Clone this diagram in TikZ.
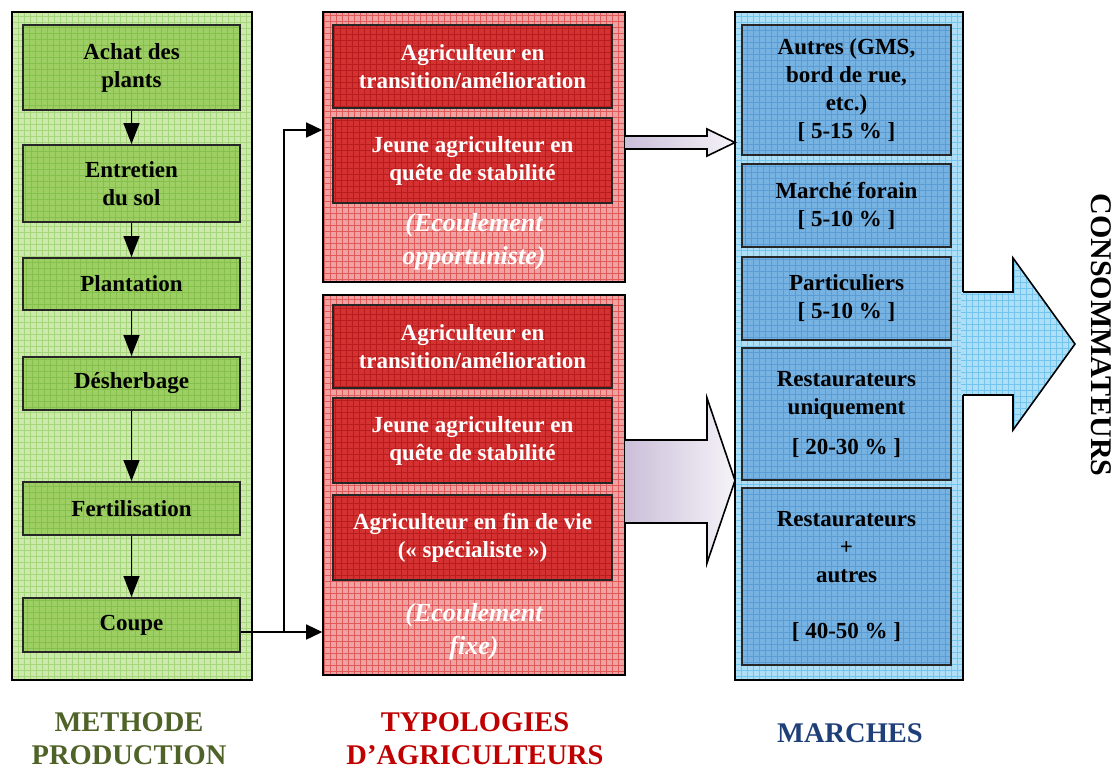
\documentclass[tikz,border=0pt]{standalone}
\usepackage{fontspec}
\setmainfont{Liberation Serif}
\usetikzlibrary{arrows.meta}

\definecolor{greenOuter}{HTML}{CDE9AC}
\definecolor{greenOuterLn}{HTML}{A6D67C}
\definecolor{greenInner}{HTML}{9DCF64}
\definecolor{greenInnerLn}{HTML}{86C04C}
\definecolor{redOuter}{HTML}{EFA2A2}
\definecolor{redOuterLn}{HTML}{E05A5A}
\definecolor{redInner}{HTML}{D43232}
\definecolor{redInnerLn}{HTML}{B81C1C}
\definecolor{blueOuter}{HTML}{AEDFF7}
\definecolor{blueOuterLn}{HTML}{72C6EE}
\definecolor{blueInner}{HTML}{76B3E3}
\definecolor{blueInnerLn}{HTML}{5C9CD4}
\definecolor{flowLeft}{HTML}{CBBFD9}
\definecolor{flowRight}{HTML}{F5F3F8}
\definecolor{labGreen}{HTML}{4F6228}
\definecolor{labRed}{HTML}{C00000}
\definecolor{labBlue}{HTML}{1F3F78}

\begin{document}
\begin{tikzpicture}[x=1pt,y=-1pt,
  % textured fill: a flat colour crossed by a fine grid
  gridfill/.style={path picture={\draw[#1, line width=0.7pt, step=6pt]
      (path picture bounding box.south west) grid (path picture bounding box.north east);}},
  outerbox/.style={draw=black, line width=1.6pt, inner sep=0pt},
  innerbox/.style={draw=black!85, line width=2pt, inner sep=0pt, align=center,
    font=\fontsize{23}{28}\selectfont\bfseries},
  gbox/.style={innerbox, fill=greenInner, gridfill=greenInnerLn, minimum width=217pt},
  rbox/.style={innerbox, fill=redInner, gridfill=redInnerLn, text=white, minimum width=279pt},
  bbox/.style={innerbox, fill=blueInner, gridfill=blueInnerLn, minimum width=209pt},
  flow/.style={line width=1.5pt, -{Triangle[length=21pt,width=16pt]}},
  feed/.style={line width=1.5pt, -{Triangle[length=16pt,width=15pt]}},
  conn/.style={line width=1.5pt},
  hollow/.style={line width=1.6pt, line join=miter},
  note/.style={align=center, text=white, font=\fontsize{26}{33}\selectfont\bfseries\itshape},
  title/.style={align=center, font=\fontsize{28.5}{33}\selectfont\bfseries}
]
\useasboundingbox (0,0) rectangle (1118,769);

% ---- column frames ----
\node[outerbox, fill=greenOuter, gridfill=greenOuterLn, minimum width=240pt, minimum height=668pt] (G) at (132,346) {};
\node[outerbox, fill=redOuter, gridfill=redOuterLn, minimum width=302pt, minimum height=270pt] (R1) at (474,147) {};
\node[outerbox, fill=redOuter, gridfill=redOuterLn, minimum width=302pt, minimum height=380pt] (R2) at (474,485) {};
\node[outerbox, fill=blueOuter, gridfill=blueOuterLn, minimum width=228pt, minimum height=668pt] (B) at (849,346) {};

% ---- production steps ----
\node[gbox, minimum height=85pt] (a1) at (131.5,67.5) {Achat des\\plants};
\node[gbox, minimum height=77pt] (a2) at (131.5,183.5) {Entretien\\du sol};
\node[gbox, minimum height=52pt] (a3) at (131.5,284) {Plantation};
\node[gbox, minimum height=53pt] (a4) at (131.5,383.5) {Désherbage};
\node[gbox, minimum height=53pt] (a5) at (131.5,508.5) {Fertilisation};
\node[gbox, minimum height=54pt] (a6) at (131.5,625) {Coupe};

\draw[flow] (a1) -- (a2);
\draw[flow] (a2) -- (a3);
\draw[flow] (a3) -- (a4);
\draw[flow] (a4) -- (a5);
\draw[flow] (a5) -- (a6);

% ---- farmer types ----
\node[rbox, minimum height=83pt] (b1) at (472.5,66.5) {Agriculteur en\\transition/amélioration};
\node[rbox, minimum height=85pt] (b2) at (472.5,160.5) {Jeune agriculteur en\\quête de stabilité};
\node[note] (n1) at (474,242) {(Ecoulement\\opportuniste)};

\node[rbox, minimum height=83pt] (b3) at (472.5,346.5) {Agriculteur en\\transition/amélioration};
\node[rbox, minimum height=85pt] (b4) at (472.5,440.5) {Jeune agriculteur en\\quête de stabilité};
\node[rbox, minimum height=85pt] (b5) at (472.5,537.5) {Agriculteur en fin de vie\\(« spécialiste »)};
\node[note] (n2) at (474,632) {(Ecoulement\\fixe)};

% ---- markets ----
\node[bbox, minimum height=130pt] (c1) at (846.5,90) {Autres (GMS,\\bord de rue,\\etc.)\\{}[ 5-15 \% ]};
\node[bbox, minimum height=83pt] (c2) at (846.5,205.5) {Marché forain\\{}[ 5-10 \% ]};
\node[bbox, minimum height=83pt] (c3) at (846.5,298.5) {Particuliers\\{}[ 5-10 \% ]};
\node[bbox, minimum height=132pt] (c4) at (846.5,414) {Restaurateurs\\uniquement\\[12pt]{}[ 20-30 \% ]};
\node[bbox, minimum height=177pt] (c5) at (846.5,576.5) {Restaurateurs\\+\\autres\\[28pt]{}[ 40-50 \% ]};

% ---- connector from the last step to both farmer groups ----
\coordinate (split) at (284,632);
\draw[conn] (a6.east |- split) -- (split);
\draw[feed] (split) |- ([yshift=17pt]R1.west);
\draw[feed] (split) -- (R2.west |- split);

% ---- hollow flow arrows towards the markets ----
\shade[left color=flowLeft, right color=flowRight]
  (625,136) -- (707,136) -- (707,129) -- (735,142.5) -- (707,156) -- (707,149) -- (625,149) -- cycle;
\draw[hollow] (625,136) -- (707,136) -- (707,129) -- (735,142.5) -- (707,156) -- (707,149) -- (625,149);

\shade[left color=flowLeft, right color=flowRight]
  (625,440) -- (707,440) -- (707,398) -- (735,480.5) -- (707,563) -- (707,523) -- (625,523) -- cycle;
\draw[hollow] (625,440) -- (707,440) -- (707,398) -- (735,480.5) -- (707,563) -- (707,523) -- (625,523);

% ---- big arrow to the consumers ----
\path[fill=blueOuter, gridfill=blueOuterLn]
  (961,292) -- (1013,292) -- (1013,258) -- (1075,344) -- (1013,430) -- (1013,395) -- (961,395) -- cycle;
\draw[hollow] (963,292) -- (1013,292) -- (1013,258) -- (1075,344) -- (1013,430) -- (1013,395) -- (963,395);
\node[rotate=-90, font=\fontsize{30}{34}\selectfont\bfseries] (cons) at (1101,335) {CONSOMMATEURS};

% ---- column titles ----
\node[title, text=labGreen] (t1) at (129,739) {METHODE\\PRODUCTION};
\node[title, text=labRed] (t2) at (475,739) {TYPOLOGIES\\D’AGRICULTEURS};
\node[title, text=labBlue] (t3) at (850,733) {MARCHES};
\end{tikzpicture}
\end{document}
